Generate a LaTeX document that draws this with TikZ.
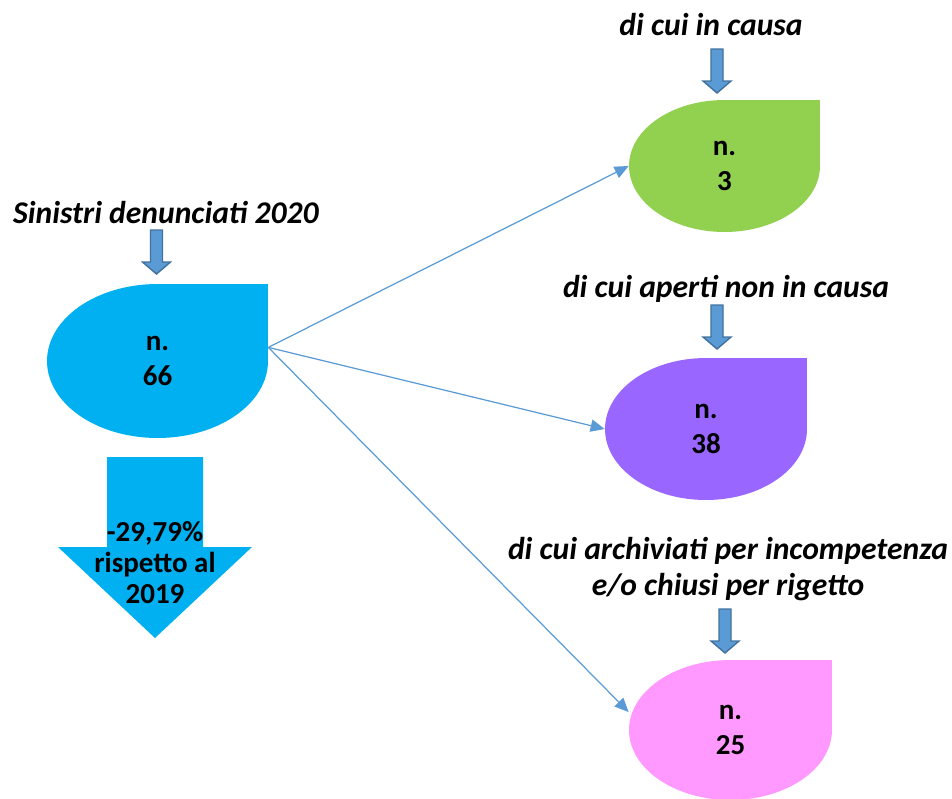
\documentclass[tikz,border=0pt]{standalone}
\usepackage{fontspec}
\setmainfont{Carlito}
\usetikzlibrary{arrows.meta,calc}
\definecolor{skyB}{RGB}{0,176,240}
\definecolor{leafG}{RGB}{146,208,80}
\definecolor{violP}{RGB}{153,102,255}
\definecolor{pinkP}{RGB}{255,153,255}
\definecolor{lnk}{RGB}{91,155,213}
\definecolor{lnkD}{RGB}{65,113,156}

\tikzset{
  pics/cue/.style={code={
    \filldraw[fill=lnk, draw=lnkD, line width=0.8pt]
      (-6,0) -- (6,0) -- (6,32) -- (14,32) -- (0,44) -- (-14,32) -- (-6,32) -- cycle;}},
  pics/fall/.style={code={
    \fill[skyB]
      (-48,0) -- (48,0) -- (48,90) -- (97,90) -- (0,181) -- (-97,90) -- (-48,90) -- cycle;}}
}

\begin{document}
\begin{tikzpicture}[x=0.02cm, y=-0.02cm, >={Triangle[length=8pt,width=7pt]},
  drop/.style={rectangle, inner sep=0pt, align=center,
    font=\fontsize{16.5}{20.4}\selectfont\bfseries,
    path picture={
      \coordinate (dE) at (path picture bounding box.east);
      \coordinate (dS) at (path picture bounding box.south);
      \coordinate (dW) at (path picture bounding box.west);
      \coordinate (dN) at (path picture bounding box.north);
      \coordinate (dNE) at (path picture bounding box.north east);
      \coordinate (dSE) at (path picture bounding box.south east);
      \coordinate (dSW) at (path picture bounding box.south west);
      \coordinate (dNW) at (path picture bounding box.north west);
      \fill[#1] (dNE) -- (dE)
        .. controls ($(dE)!0.5523!(dSE)$) and ($(dS)!0.5523!(dSE)$) .. (dS)
        .. controls ($(dS)!0.5523!(dSW)$) and ($(dW)!0.5523!(dSW)$) .. (dW)
        .. controls ($(dW)!0.5523!(dNW)$) and ($(dN)!0.5523!(dNW)$) .. (dN) -- cycle;
    }},
  lbl/.style={font=\fontsize{18}{20.5}\selectfont\bfseries\itshape,
    inner sep=0pt, align=center},
  link/.style={->, lnk, line width=0.7pt}]
  \useasboundingbox (0,0) rectangle (952,798);

  % total claims
  \node[lbl] (ltot) at (166,213) {Sinistri denunciati 2020};
  \pic at (156.5,230) {cue};
  \node[drop=skyB, minimum width=4.42cm, minimum height=3.08cm] (total)
    at (157.5,361) {n.\\66};
  \pic at (155,457) {fall};
  \node[font=\fontsize{16.5}{17.6}\selectfont\bfseries, align=center, inner sep=0pt]
    (trend) at (155,563) {-29,79\%\\rispetto al\\2019};

  % split
  \node[lbl] (lcausa) at (711,25) {di cui in causa};
  \pic at (717,49) {cue};
  \node[drop=leafG, minimum width=3.82cm, minimum height=2.64cm] (incausa)
    at (724.5,166) {n.\\3};

  \node[lbl] (laperti) at (726,289) {di cui aperti non in causa};
  \pic at (717,305) {cue};
  \node[drop=violP, minimum width=4.04cm, minimum height=2.84cm] (aperti)
    at (706,429) {n.\\38};

  \node[lbl] (larch) at (728,569) {di cui archiviati per incompetenza\\e/o chiusi per rigetto};
  \pic at (725,609) {cue};
  \node[drop=pinkP, minimum width=4.06cm, minimum height=2.8cm] (archiviati)
    at (730.5,730) {n.\\25};

  \draw[link] (total.7) -- (incausa.west);
  \draw[link] (total.7) -- (aperti.west);
  \draw[link] (total.7) -- (archiviati.170);
\end{tikzpicture}
\end{document}
